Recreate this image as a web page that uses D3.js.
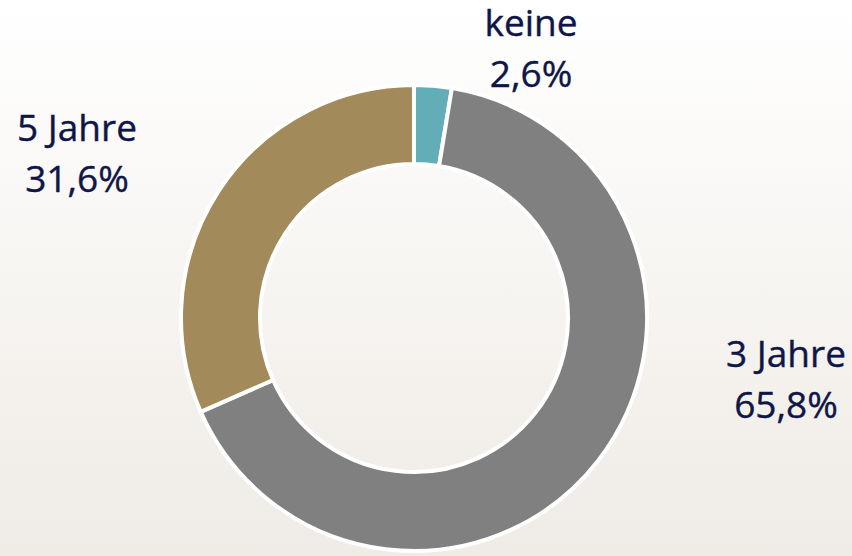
<!DOCTYPE html>
<html>
<head>
<meta charset="utf-8">
<script src="https://cdn.jsdelivr.net/npm/d3@7"></script>
<style>
  html, body { margin: 0; padding: 0; }
  body { width: 852px; height: 556px; overflow: hidden; }
</style>
</head>
<body>
<div id="chart"></div>
<script>
var width = 852,
    height = 556,
    cx = 414,
    cy = 318,
    outerR = 233,
    innerR = 154;

// data
var categories = ["keine", "3 Jahre", "5 Jahre"];
var shares = [2.6, 65.8, 31.6];
var colors = ["#62adb7", "#808080", "#a38a5a"];
var labelPos = [[531, 36], [786, 367], [77, 141]]; // anchor of first line

var svg = d3.select("#chart").append("svg")
    .attr("width", width)
    .attr("height", height);

var defs = svg.append("defs");
var grad = defs.append("linearGradient")
    .attr("id", "bg")
    .attr("x1", 0).attr("y1", 0).attr("x2", 0).attr("y2", 1);
grad.append("stop").attr("offset", "0%").attr("stop-color", "#ffffff");
grad.append("stop").attr("offset", "100%").attr("stop-color", "#efebe5");

svg.append("rect")
    .attr("width", width)
    .attr("height", height)
    .attr("fill", "url(#bg)");

var pie = d3.pie().sort(null).value(function(d) { return d; });
var arc = d3.arc().innerRadius(innerR).outerRadius(outerR);

var g = svg.append("g")
    .attr("transform", "translate(" + cx + "," + cy + ")");

g.selectAll("path")
    .data(pie(shares))
    .enter().append("path")
    .attr("d", arc)
    .attr("fill", function(d, i) { return colors[i]; })
    .attr("stroke", "#ffffff")
    .attr("stroke-width", 4)
    .attr("stroke-linejoin", "miter");

var fmt = function(v) { return String(v.toFixed(1)).replace(".", ",") + "%"; };

var labels = svg.selectAll("text.lbl")
    .data(categories)
    .enter().append("text")
    .attr("class", "lbl")
    .attr("text-anchor", "middle")
    .attr("font-family", "'Open Sans', sans-serif")
    .attr("font-size", 37)
    .attr("fill", "#0f1647")
    .attr("stroke", "#0f1647")
    .attr("stroke-width", 0.4);

labels.append("tspan")
    .attr("x", function(d, i) { return labelPos[i][0]; })
    .attr("y", function(d, i) { return labelPos[i][1]; })
    .text(function(d) { return d; });

labels.append("tspan")
    .attr("x", function(d, i) { return labelPos[i][0]; })
    .attr("y", function(d, i) { return labelPos[i][1] + 51; })
    .text(function(d, i) { return fmt(shares[i]); });
</script>
</body>
</html>
